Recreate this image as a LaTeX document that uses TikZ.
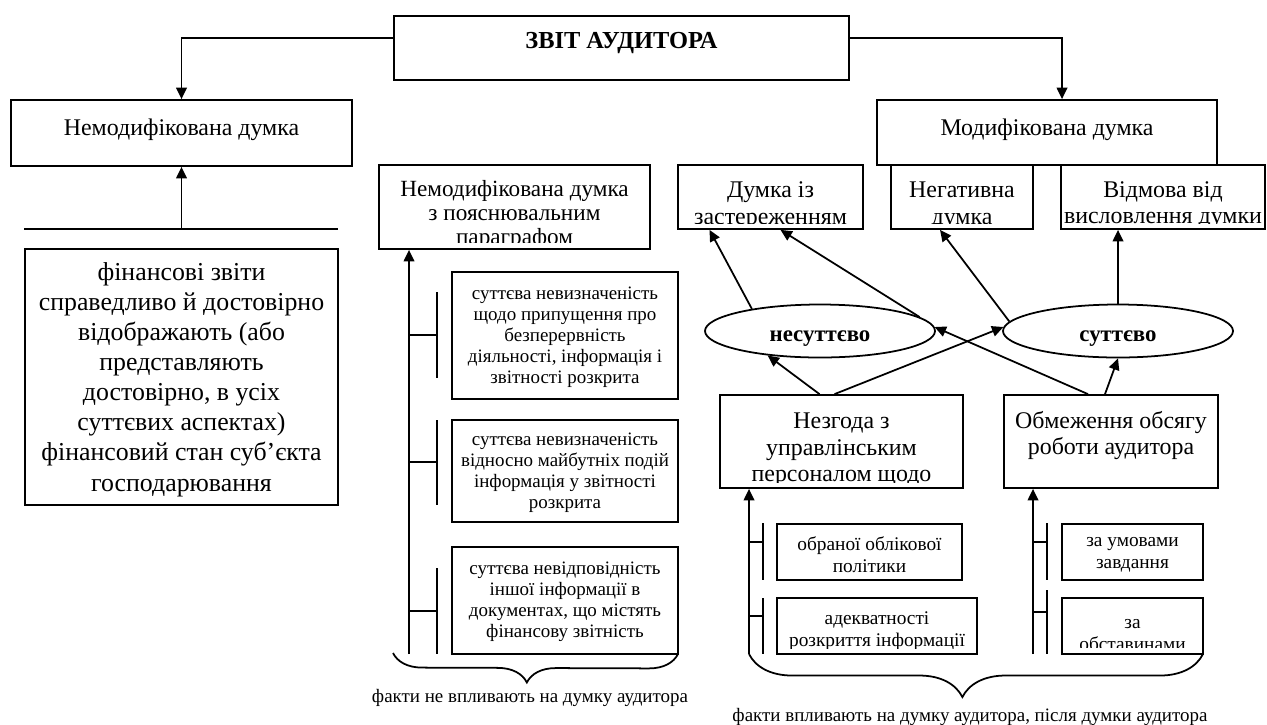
\documentclass[tikz,border=0pt]{standalone}
\usepackage{fontspec}
\setmainfont{Liberation Serif}
\usetikzlibrary{arrows.meta,calc,shapes.geometric,decorations.pathreplacing}

\newcommand\fbig{\fontsize{14.7}{17.1}\selectfont}
\newcommand\fmid{\fontsize{13.6}{15}\selectfont}
\newcommand\fpar{\fontsize{13.2}{13.8}\selectfont}
\newcommand\fbold{\fontsize{13.9}{15}\selectfont\bfseries}
\newcommand\fovl{\fontsize{13}{15}\selectfont\bfseries}
\newcommand\fsml{\fontsize{10.8}{12}\selectfont}
\newcommand\fbot{\fontsize{11}{12.5}\selectfont}

\tikzset{
  box/.style={draw, line width=1pt, inner sep=0pt},
  sz/.style 2 args={minimum width=#1*0.02cm, minimum height=#2*0.02cm},
  % font, shift of the text, clipped strip at the bottom, text
  intext/.style n args={4}{path picture={
      \clip ([yshift=#3]path picture bounding box.south west) rectangle (path picture bounding box.north east);
      \node[font=#1, align=center, inner sep=0pt]
        at ([yshift=#2]path picture bounding box.center) {#4};}},
  arr/.style={line width=1pt, -{Triangle[length=6.5pt,width=6pt]}},
  ln/.style={line width=1pt},
  oval/.style={ellipse, draw, line width=1pt, inner sep=0pt, font=\fovl,
               text height=11.5pt, text depth=0pt},
}

\begin{document}
\begin{tikzpicture}[x=0.02cm, y=-0.02cm]
 \useasboundingbox (0,0) rectangle (1267,724);

 % top
 \node[box, sz={455}{64}, intext={\fbold}{2.8pt}{0pt}{ЗВІТ АУДИТОРА}] (audit) at (621.5,48) {};

 % left column
 \node[box, sz={341}{66}, intext={\fmid}{1.7pt}{0pt}{Немодифікована думка}] (nemod) at (181.5,133) {};
 \coordinate (hl1) at (24,229); \coordinate (hl2) at (338,229);
 \node[box, sz={313}{256}, intext={\fbig}{-1.5pt}{0pt}{фінансові звіти\\справедливо й достовірно\\відображають (або\\представляють\\достовірно, в усіх\\суттєвих аспектах)\\фінансовий стан суб’єкта\\господарювання}] (fin) at (181.5,377) {};
 \draw[arr] ($(audit.west)+(0,-10)$) -| (nemod.north);
 \draw[ln] (hl1) -- (hl2);
 \draw[arr] (hl1 -| nemod.south) -- (nemod.south);

 % middle column
 \node[box, sz={271}{84}, intext={\fpar}{-4.5pt}{3.8pt}{Немодифікована думка\\з пояснювальним\\параграфом}] (parag) at (514.5,207) {};
 \node[box, sz={226}{127}, intext={\fsml}{-1.1pt}{0pt}{суттєва невизначеність\\щодо припущення про\\безперервність\\діяльності, інформація і\\звітності розкрита}] (sa) at (565,335.5) {};
 \node[box, sz={226}{102}, intext={\fsml}{-1.1pt}{0pt}{суттєва невизначеність\\відносно майбутніх подій\\інформація у звітності\\розкрита}] (sb) at (565,471) {};
 \node[box, sz={226}{107}, intext={\fsml}{-0.6pt}{0pt}{суттєва невідповідність\\іншої інформації в\\документах, що містять\\фінансову звітність}] (sc) at (565,600.5) {};
 \coordinate (pbase) at (409,654);
 \draw[arr] (pbase) -- (pbase |- parag.south);
 \foreach \ya/\yb/\ym in {292/378/335, 420/505/462, 568/654/611} {
   \draw[ln] (437,\ya) -- (437,\yb);
   \draw[ln] (409,\ym) -- (437,\ym);
 }

 % right column
 \node[box, sz={340}{65}, intext={\fmid}{1.4pt}{0pt}{Модифікована думка}] (mod) at (1047,132.5) {};
 \node[box, sz={185}{64}, intext={\fmid}{-5pt}{3.4pt}{Думка із\\застереженням}] (zast) at (770.5,197) {};
 \node[box, sz={142}{64}, intext={\fmid}{-5pt}{3.4pt}{Негативна\\думка}] (neg) at (962,197) {};
 \node[box, sz={204}{64}, intext={\fmid}{-4.6pt}{3.4pt}{Відмова від\\висловлення думки}] (vidm) at (1163,197) {};
 \draw[arr] ($(audit.east)+(0,-10)$) -| ($(mod.north)+(15,0)$);

 \node[oval, sz={230}{53}] (nesut) at (820,331) {несуттєво};
 \node[oval, sz={230}{53}] (sut) at (1118,331) {суттєво};

 \node[box, sz={243}{93}, intext={\fmid}{-4.8pt}{3.4pt}{Незгода з\\управлінським\\персоналом щодо}] (nezg) at (841.5,441.5) {};
 \node[box, sz={214}{93}, intext={\fmid}{3.5pt}{0pt}{Обмеження обсягу\\роботи аудитора}] (obm) at (1111,441.5) {};

 \draw[arr] (nesut.162) -- ($(zast.south)+(-61,0)$);
 \draw[arr] (nesut.8) -- ($(zast.south)+(10,0)$);
 \draw[arr] (sut.175) -- ($(neg.south)+(-22,0)$);
 \draw[arr] (sut.north) -- (sut.north |- vidm.south);
 \draw[arr] ($(nezg.north)+(-22,0)$) -- (nesut.205);
 \draw[arr] ($(nezg.north)+(-7,0)$) -- (sut.178);
 \draw[arr] ($(obm.north)+(-23,0)$) -- (nesut.2);
 \draw[arr] ($(obm.north)+(-6,0)$) -- (sut.south);

 \node[box, sz={185}{56}, intext={\fbot}{-1.4pt}{0pt}{обраної облікової\\політики}] (obr) at (869.5,552) {};
 \node[box, sz={200}{56}, intext={\fbot}{-2.8pt}{3.4pt}{адекватності\\розкриття інформації}] (adek) at (877,626) {};
 \node[box, sz={141}{56}, intext={\fbot}{-1.7pt}{0pt}{за умовами\\завдання}] (umov) at (1132.5,552) {};
 \node[box, sz={141}{56}, intext={\fbot}{-5pt}{3.6pt}{за\\обставинами}] (obst) at (1132.5,626) {};

 \coordinate (nbase) at (749,654);
 \coordinate (obase) at (1033,654);
 \draw[arr] (nbase) -- (nbase |- nezg.south);
 \draw[arr] (obase) -- (obase |- obm.south);
 \foreach \x/\xb/\ya/\yb/\ym in {749/763/523/580/542, 749/763/598/654/616,
                                1033/1047/523/580/542, 1033/1047/590/654/612} {
   \draw[ln] (\xb,\ya) -- (\xb,\yb);
   \draw[ln] (\x,\ym) -- (\xb,\ym);
 }

 % braces
 \coordinate (lb1) at (393,653); \coordinate (lb2) at (678,654);
 \coordinate (rb1) at (749,654); \coordinate (rb2) at (1203,654);
 \draw[ln, decorate, decoration={brace, mirror, amplitude=16.5pt, aspect=0.47}] (lb1) -- (lb2);
 \draw[ln, decorate, decoration={brace, mirror, amplitude=24.5pt, aspect=0.47}] (rb1) -- (rb2);
 \node[font=\fsml] (ltxt) at (530,698) {факти не впливають на думку аудитора};
 \node[font=\fsml] (rtxt) at (970,717) {факти впливають на думку аудитора, після думки аудитора};
\end{tikzpicture}
\end{document}
